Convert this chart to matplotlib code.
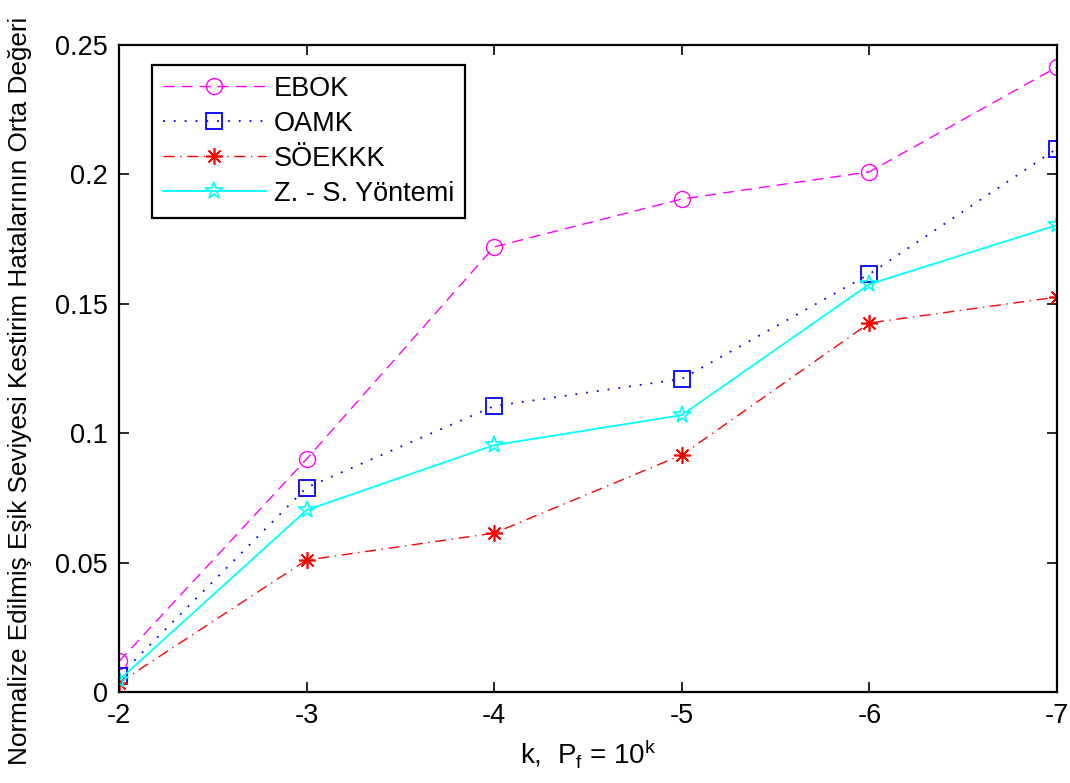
import matplotlib
matplotlib.use("Agg")
import matplotlib.pyplot as plt

plt.rcParams['font.family'] = ['Liberation Sans', 'DejaVu Sans']
plt.rcParams['mathtext.fontset'] = 'custom'
plt.rcParams['mathtext.rm'] = 'Liberation Sans'
plt.rcParams['mathtext.it'] = 'Liberation Sans'

k = [-2, -3, -4, -5, -6, -7]
ebok = [0.0118, 0.0900, 0.1720, 0.1905, 0.2010, 0.2415]
oamk = [0.0062, 0.0790, 0.1105, 0.1210, 0.1615, 0.2100]
soekkk = [0.0035, 0.0510, 0.0614, 0.0916, 0.1426, 0.1526]
zs = [0.0046, 0.0703, 0.0954, 0.1070, 0.1576, 0.1804]

labels = ["EBOK", "OAMK", "SÖEKKK", "Z. - S. Yöntemi"]
yticks = [0, 0.05, 0.1, 0.15, 0.2, 0.25]
yticklabels = ["0", "0.05", "0.1", "0.15", "0.2", "0.25"]

fig = plt.figure(figsize=(10.7, 7.83), dpi=100)
ax = fig.add_axes([0.1112, 0.1162, 0.8767, 0.8263])

ax.plot(k, ebok, color='#ff00ff', linestyle=(0, (8, 5)), linewidth=1.0,
        marker='o', markersize=11.5, markerfacecolor='none', markeredgecolor='#ff00ff',
        markeredgewidth=1.0, label=labels[0])
ax.plot(k, oamk, color='#0000ff', linestyle=(0, (1, 5)), linewidth=1.3,
        marker='s', markersize=11, markerfacecolor='none', markeredgecolor='#0000ff',
        markeredgewidth=1.3, label=labels[1])
ax.plot(k, soekkk, color='#ff0000', linestyle=(0, (8, 4, 1, 4)), linewidth=1.0,
        marker=(8, 2, 0), markersize=12, markeredgecolor='#ff0000',
        markeredgewidth=1.2, label=labels[2])
ax.plot(k, zs, color='#00ffff', linestyle='-', linewidth=1.3,
        marker='*', markersize=13, markerfacecolor='none', markeredgecolor='#00ffff',
        markeredgewidth=1.2, label=labels[3])

ax.set_xlim(-2, -7)
ax.set_ylim(0, 0.25)
ax.set_xticks(k)
ax.set_xticklabels([str(v) for v in k])
ax.set_yticks(yticks)
ax.set_yticklabels(yticklabels)

ax.tick_params(direction='in', top=True, right=True, length=7, width=1.2,
               labelsize=19.5, pad=8)
for s in ax.spines.values():
    s.set_linewidth(1.6)

ax.set_xlabel(r"k,  P$_\mathregular{f}$ = 10$^\mathregular{k}$", fontsize=20, labelpad=6)
ax.set_ylabel("Normalize Edilmiş Eşik Seviyesi Kestirim Hatalarının Orta Değeri",
              fontsize=18.8)
ax.yaxis.set_label_coords(-0.093, 0.465)

leg = ax.legend(loc='upper left', bbox_to_anchor=(0.035, 0.969), borderaxespad=0,
                fontsize=19.5, handlelength=3.8, frameon=True, fancybox=False,
                framealpha=1, edgecolor='black', borderpad=0.4, labelspacing=0.33,
                handletextpad=0.3)
leg.get_frame().set_linewidth(1.6)

fig.savefig("out.png", dpi=100)
